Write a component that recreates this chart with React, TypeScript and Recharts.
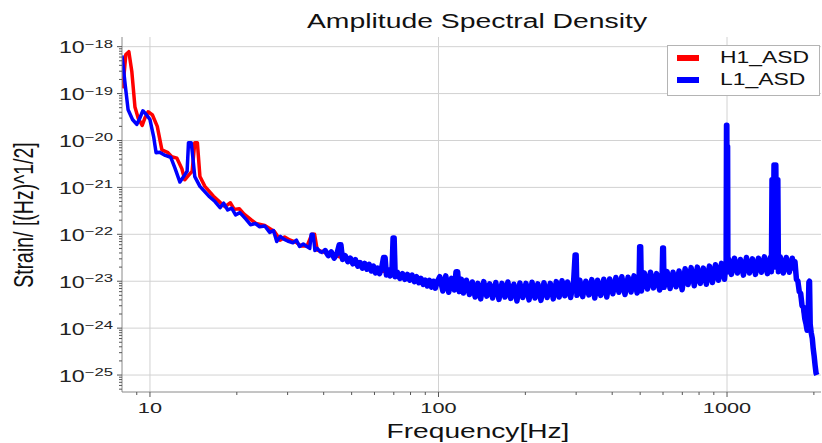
import { LineChart, Line, XAxis, YAxis, CartesianGrid } from 'recharts'

// frequency axis (Hz) and strain axis limits
const X_DOMAIN = [8, 2117]
const Y_DOMAIN = [4.35e-26, 1.607e-18]

const X_MAJOR = [10, 100, 1000]
const X_MINOR = [9, 20, 30, 40, 50, 60, 70, 80, 90, 200, 300, 400, 500, 600, 700, 800, 900, 2000]
const Y_MAJOR = [1e-25, 1e-24, 1e-23, 1e-22, 1e-21, 1e-20, 1e-19, 1e-18]
const Y_DECADES = [1e-26, 1e-25, 1e-24, 1e-23, 1e-22, 1e-21, 1e-20, 1e-19]
const MINOR_STEPS = [2, 3, 4, 5, 6, 7, 8, 9]

// L1 detector ASD
const L1_FREQ = [
  8.0, 8.2, 8.4, 8.7, 9.0, 9.2, 9.45, 9.7, 10.0, 10.3,
  10.5, 10.8, 11.3, 11.8, 12.2, 12.7, 13.2, 13.45, 13.6, 13.9,
  14.1, 14.3, 14.9, 16.0, 16.8, 17.5, 18.0, 18.6, 19.2, 19.8,
  20.5, 21.5, 22.3, 23.2, 24.0, 25.0, 26.0, 26.8, 27.5, 28.3,
  29.0, 30.0, 31.3, 32.2, 33.0, 34.0, 35.0, 35.8, 36.2, 36.8,
  37.3, 38.0, 39.0, 39.8,
  40.5, 41.5, 42.5, 43.5, 44.5, 45.3, 45.9, 46.5, 47.5, 48.5,
  49.5, 50.5, 51.5, 52.5, 53.5, 54.5, 55.5, 56.5, 57.5, 58.5,
  59.5, 60.5, 61.5, 62.5, 63.5, 64.5, 65.3, 66, 67, 68,
  69, 69.6, 70.2, 70.8, 72, 73.5, 75, 76.5, 78, 79.5,
  81, 82.5, 84, 85.5, 87, 88.5, 90, 91.5, 93, 94.5,
  96, 97.5, 99,
  101, 103.5, 106, 108.5, 111, 113.5, 115, 116.5, 118, 120,
  122, 125, 128, 131, 134, 137, 140, 143.5, 147, 150.5,
  154, 158, 162, 166, 170, 174, 178, 182.5, 187, 191.5,
  196, 201, 206, 211, 216, 221, 226.5, 232, 238, 244,
  250, 256, 262, 268, 274, 280, 287, 294, 297.5, 300,
  302, 309, 316, 324, 332, 340, 348, 356, 365, 374,
  383, 392, 402, 412, 422, 432, 443, 454, 465, 476,
  488, 496, 498, 502, 505, 517, 530, 543, 556, 570,
  584, 596, 598.5, 602, 605, 620, 635, 650, 666, 682,
  699, 716, 733, 751, 770, 789, 808, 828, 848, 869,
  890, 912, 934, 957, 980, 993, 996, 998.5, 1000.5, 1002,
  1004.5, 1007, 1012,
  1036, 1061, 1087, 1113, 1140, 1168, 1196, 1225, 1255, 1285,
  1316, 1348, 1380, 1413, 1425, 1432, 1445, 1455, 1466, 1476,
  1488, 1500, 1507, 1530, 1567, 1605, 1644,
  1684, 1705, 1720, 1740, 1760, 1780, 1800, 1820, 1840, 1860,
  1880, 1895, 1910, 1922, 1932, 1942, 1958, 1975, 1990, 2005,
  2020, 2035, 2048,
]
const L1_ASD = [
  6.5e-19, 1.6e-19, 4.5e-20, 2.8e-20, 2.2e-20, 2.9e-20, 4.3e-20, 3.6e-20, 2.8e-20, 1.2e-20,
  5.5e-21, 5.6e-21, 4.8e-21, 4.4e-21, 2.6e-21, 1.3e-21, 1.85e-21, 2.2e-21, 9e-21, 9e-21,
  4e-21, 1.7e-21, 1.05e-21, 6.5e-22, 5e-22, 3.7e-22, 4.6e-22, 3.3e-22, 3.6e-22, 2.6e-22,
  2.9e-22, 2.1e-22, 1.6e-22, 1.7e-22, 1.45e-22, 1.5e-22, 1.1e-22, 1.2e-22, 7e-23, 9e-23,
  8e-23, 7.2e-23, 6.6e-23, 7.5e-23, 5.5e-23, 6.2e-23, 5.5e-23, 5e-23, 1.0e-22, 1.0e-22,
  4.5e-23, 5e-23, 4.2e-23, 4.0e-23,
  4.5e-23, 3.5e-23, 4.2e-23, 3.1e-23, 3.9e-23, 6.0e-23, 6.0e-23, 2.9e-23, 3.5e-23, 2.6e-23,
  3.1e-23, 2.35e-23, 2.9e-23, 2.1e-23, 2.5e-23, 1.9e-23, 2.4e-23, 1.8e-23, 2.3e-23, 1.65e-23,
  2.1e-23, 1.5e-23, 1.9e-23, 1.45e-23, 1.9e-23, 3.2e-23, 3.2e-23, 1.35e-23, 1.75e-23, 1.3e-23,
  1.7e-23, 8.3e-23, 8.3e-23, 1.25e-23, 1.55e-23, 1.15e-23, 1.45e-23, 1.1e-23, 1.4e-23, 1.05e-23,
  1.35e-23, 9.8e-24, 1.25e-23, 9.3e-24, 1.15e-23, 8.6e-24, 1.05e-23, 7.9e-24, 1.05e-23, 7.5e-24,
  1.0e-23, 7.1e-24, 9.8e-24,
  1.25e-23, 6.2e-24, 1.3e-23, 5.8e-24, 1.15e-23, 6.5e-24, 1.6e-23, 1.6e-23, 6.0e-24, 1.1e-23,
  5.6e-24, 1.05e-23, 5.2e-24, 9.6e-24, 4.6e-24, 9.0e-24, 4.2e-24, 9.8e-24, 4.8e-24, 8.8e-24,
  4.4e-24, 9.4e-24, 4.1e-24, 9.0e-24, 4.6e-24, 9.6e-24, 4.3e-24, 8.6e-24, 3.8e-24, 9.2e-24,
  4.5e-24, 9.0e-24, 4.0e-24, 9.5e-24, 4.4e-24, 8.8e-24, 3.9e-24, 9.3e-24, 4.5e-24, 9.0e-24,
  4.2e-24, 9.8e-24, 4.6e-24, 1.02e-23, 4.9e-24, 9.6e-24, 4.5e-24, 1.0e-23, 3.6e-23, 3.6e-23,
  5.0e-24, 1.05e-23, 4.7e-24, 1.0e-23, 5.1e-24, 1.08e-23, 4.4e-24, 1.05e-23, 5.0e-24, 1.1e-23,
  4.6e-24, 1.12e-23, 5.4e-24, 1.2e-23, 5.8e-24, 1.25e-23, 5.2e-24, 1.22e-23, 5.9e-24, 1.3e-23,
  5.6e-24, 1.25e-23, 5.4e-23, 5.4e-23, 6.2e-24, 1.5e-23, 6.8e-24, 1.55e-23, 7.2e-24, 1.45e-23,
  6.5e-24, 1.5e-23, 5.1e-23, 5.1e-23, 7.4e-24, 1.6e-23, 7.0e-24, 1.55e-23, 7.6e-24, 1.65e-23,
  6.6e-24, 1.85e-23, 8.5e-24, 1.95e-23, 8.0e-24, 2.0e-23, 9.0e-24, 1.9e-23, 8.6e-24, 2.1e-23,
  9.4e-24, 2.25e-23, 1.05e-23, 2.4e-23, 1.1e-23, 2.6e-23, 2.1e-20, 2.1e-20, 2.5e-23, 7.4e-21,
  7.4e-21, 1.6e-23, 3.0e-23,
  1.4e-23, 3.1e-23, 1.5e-23, 2.9e-23, 1.35e-23, 3.2e-23, 1.5e-23, 3.0e-23, 1.4e-23, 3.1e-23,
  1.55e-23, 3.3e-23, 1.45e-23, 3.2e-23, 1.6e-23, 1.45e-21, 2.0e-23, 3.0e-21, 2.0e-23, 3.0e-21,
  2.0e-23, 1.45e-21, 1.6e-23, 3.3e-23, 1.5e-23, 3.2e-23, 1.55e-23,
  3.1e-23, 1.9e-23, 2.6e-23, 1.1e-23, 1.0e-23, 6.0e-24, 5.5e-24, 3.0e-24, 2.8e-24, 1.6e-24,
  1.2e-24, 9.0e-25, 1.5e-24, 9.5e-24, 1.0e-23, 1.2e-24, 8.0e-25, 6.0e-25, 3.6e-25, 2.5e-25,
  1.6e-25, 1.1e-25, 1.0e-25,
]
// the L1 trace is a thin line below ~40 Hz and a dense noisy band above
const L1_BAND_START = 53

// H1 detector ASD
const H1_FREQ = [
  8.05, 8.25, 8.45, 8.65, 8.87, 9.1, 9.4, 9.6, 9.85, 10.2,
  10.6, 11.0, 11.5, 11.9, 12.4, 12.9, 13.2, 13.6, 14.0, 14.3,
  14.6, 14.9, 15.5, 16.6, 17.5, 18.2, 19.0, 19.6, 20.4, 21.2,
  22.5, 23.3, 25.0, 27.0, 28.3, 29.3, 30.5, 32.0, 33.5, 35.0,
  36.4, 37.2, 38.0, 40, 45, 50, 55, 60, 65, 70,
  80, 90, 100, 150, 200, 300, 400, 500, 700, 900,
  1000, 1300, 1600, 1700, 1760, 1820, 1880, 1958, 2005, 2035,
]
const H1_ASD = [
  1.3e-19, 6.8e-19, 7.8e-19, 3.0e-19, 5.2e-20, 3.0e-20, 2.1e-20, 3.0e-20, 4.1e-20, 3.5e-20,
  2.0e-20, 6.3e-21, 5.6e-21, 4.5e-21, 4.2e-21, 2.5e-21, 1.45e-21, 1.8e-21, 2.2e-21, 9e-21,
  9e-21, 1.7e-21, 1.05e-21, 6.5e-22, 4.8e-22, 3.9e-22, 4.7e-22, 3.4e-22, 3.5e-22, 2.7e-22,
  2.0e-22, 1.7e-22, 1.55e-22, 1.15e-22, 7.5e-23, 8.8e-23, 7.6e-23, 6.8e-23, 5.6e-23, 5.6e-23,
  1.0e-22, 1.0e-22, 4.6e-23, 4.2e-23, 3.4e-23, 2.6e-23, 2.1e-23, 1.8e-23, 1.6e-23, 1.4e-23,
  1.2e-23, 1.0e-23, 8.7e-24, 6.5e-24, 6.3e-24, 6.8e-24, 7.7e-24, 9.0e-24, 1.1e-23, 1.4e-23,
  1.7e-23, 2.1e-23, 2.2e-23, 2.1e-23, 1.0e-23, 3.0e-24, 1.2e-24, 8.0e-25, 2.5e-25, 1.1e-25,
]

const FONT = '"Liberation Sans", Arial, Helvetica, sans-serif'
const AXIS_COLOR = '#8a8a8a'
const TICK_COLOR = '#555'

const l1Data = L1_FREQ.map((f, i) => ({ f, v: L1_ASD[i] }))
const h1Data = H1_FREQ.map((f, i) => ({ f, v: H1_ASD[i] }))

const Y_MINOR = Y_DECADES.flatMap((d) => MINOR_STEPS.map((s) => s * d)).filter(
  (v) => v >= Y_DOMAIN[0] && v <= Y_DOMAIN[1]
)
const X_TICKS = [...X_MAJOR, ...X_MINOR].sort((a, b) => a - b)
const Y_TICKS = [...Y_MAJOR, ...Y_MINOR].sort((a, b) => a - b)

function XTick(props: any) {
  const { x, y, payload } = props
  const major = X_MAJOR.includes(payload.value)
  return (
    <g>
      <line x1={x} x2={x} y1={y} y2={y + (major ? 5 : 3)} stroke={TICK_COLOR} />
      {major && (
        <g transform={`translate(${x},${y + 21}) scale(1.45,1)`}>
          <text textAnchor="middle" fontSize={15} fill="#222" fontFamily={FONT}>
            {payload.value}
          </text>
        </g>
      )}
    </g>
  )
}

function YTick(props: any) {
  const { x, y, payload } = props
  const major = Y_MAJOR.includes(payload.value)
  const exp = Math.round(Math.log10(payload.value))
  return (
    <g>
      <line x1={x} x2={x - (major ? 5 : 3)} y1={y} y2={y} stroke={TICK_COLOR} />
      {major && (
        <g transform={`translate(${x - 9},${y + 6.5}) scale(1.45,1)`}>
          <text textAnchor="end" fontSize={16} fill="#222" fontFamily={FONT}>
            10
            <tspan fontSize={11.5} dy={-5.5}>
              {'\u2212' + Math.abs(exp)}
            </tspan>
          </text>
        </g>
      )}
    </g>
  )
}

export default function App() {
  return (
    <div style={{ position: 'absolute', left: 0, top: 0, width: 822, height: 443, background: '#fff' }}>
      <LineChart width={822} height={443} margin={{ top: 37, right: 1, left: 0, bottom: 0 }}>
        <CartesianGrid
          horizontalValues={Y_MAJOR}
          verticalValues={X_MAJOR}
          stroke="#d2d2d2"
          strokeWidth={1}
        />
        <XAxis
          dataKey="f"
          type="number"
          scale="log"
          domain={X_DOMAIN}
          allowDataOverflow
          ticks={X_TICKS}
          interval={0}
          tickSize={0}
          tickMargin={0}
          tickLine={false}
          tick={(p: any) => <XTick {...p} />}
          height={51}
          axisLine={{ stroke: AXIS_COLOR }}
        />
        <XAxis
          xAxisId="top"
          orientation="top"
          type="number"
          scale="log"
          domain={X_DOMAIN}
          allowDataOverflow
          tick={false}
          tickLine={false}
          height={0}
          axisLine={{ stroke: '#9a9a9a' }}
        />
        <YAxis
          type="number"
          scale="log"
          domain={Y_DOMAIN}
          allowDataOverflow
          ticks={Y_TICKS}
          interval={0}
          tickSize={0}
          tickMargin={0}
          tickLine={false}
          tick={(p: any) => <YTick {...p} />}
          width={122}
          axisLine={{ stroke: AXIS_COLOR }}
        />
        <Line
          data={h1Data}
          dataKey="v"
          name="H1_ASD"
          type="linear"
          stroke="#ff0000"
          strokeWidth={3.5}
          strokeLinejoin="round"
          dot={false}
          isAnimationActive={false}
        />
        <Line
          data={l1Data.slice(0, L1_BAND_START + 1)}
          dataKey="v"
          name="L1_ASD"
          type="linear"
          stroke="#0000ff"
          strokeWidth={3.5}
          strokeLinejoin="round"
          dot={false}
          isAnimationActive={false}
        />
        <Line
          data={l1Data.slice(L1_BAND_START)}
          dataKey="v"
          name="L1_ASD band"
          type="linear"
          stroke="#0000ff"
          strokeWidth={5.5}
          strokeLinejoin="round"
          dot={false}
          isAnimationActive={false}
        />
      </LineChart>
      <svg
        width={822}
        height={443}
        style={{ position: 'absolute', left: 0, top: 0, pointerEvents: 'none' }}
      >
        <g transform="translate(477,28) scale(1.35,1)">
          <text textAnchor="middle" fontSize={21} fill="#111" fontFamily={FONT}>
            Amplitude Spectral Density
          </text>
        </g>
        <g transform="translate(478,438) scale(1.34,1)">
          <text textAnchor="middle" fontSize={21} fill="#111" fontFamily={FONT}>
            Frequency[Hz]
          </text>
        </g>
        <g transform="translate(33,215) scale(1.45,1) rotate(-90)">
          <text textAnchor="middle" fontSize={19.5} fill="#111" fontFamily={FONT}>
            Strain/ [(Hz)^1/2]
          </text>
        </g>
        <rect x={667.5} y={45.5} width={152} height={50} fill="#fff" stroke="#b4b4b4" strokeWidth={1} />
        <rect x={677} y={55} width={22} height={6} fill="#ff0000" />
        <rect x={677} y={77} width={22} height={6} fill="#0000ff" />
        <g transform="translate(720,63) scale(1.43,1)">
          <text fontSize={16} fill="#111" fontFamily={FONT}>
            H1_ASD
          </text>
        </g>
        <g transform="translate(720,85) scale(1.43,1)">
          <text fontSize={16} fill="#111" fontFamily={FONT}>
            L1_ASD
          </text>
        </g>
      </svg>
    </div>
  )
}
